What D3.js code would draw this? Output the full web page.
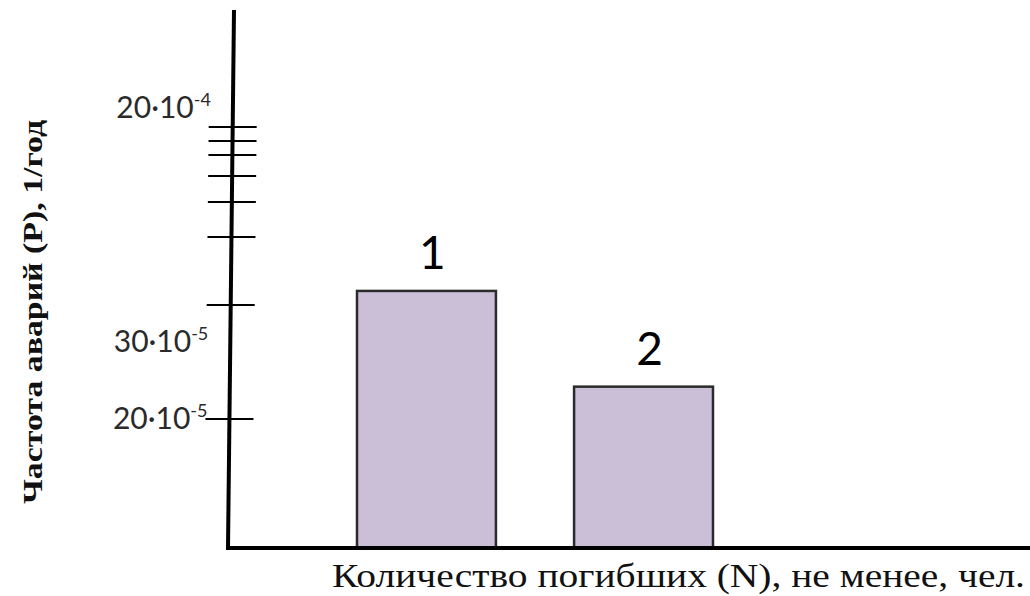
<!DOCTYPE html>
<html><head><meta charset="utf-8">
<script src="https://cdn.jsdelivr.net/npm/d3@7"></script>
<style>body{margin:0;background:#fff}</style></head>
<body><svg id="c" width="1030" height="596"></svg>
<script>
// ---- data ----
const categories = ["1", "2"];
const values = [6.71e-4, 2.42e-4];
const tickValues = [2e-4, 5.69e-4, 1.063e-3, 1.317e-3, 1.506e-3, 1.659e-3, 1.76e-3, 1.862e-3];
const labelValues = [2e-3, 3e-4, 2e-4];
const labelMantissa = ["20", "30", "20"];
const labelExponent = ["-4", "-5", "-5"];
const yTitle = "Частота аварий (P), 1/год";
const xTitle = "Количество погибших (N), не менее, чел.";

// ---- layout ----
const svg = d3.select("#c");
const baseY = 548, topY = 10;
const axisXBottom = 228, axisXTop = 234;
const axisX = y => axisXBottom + (baseY - y) / (baseY - topY) * (axisXTop - axisXBottom);

// schematic (piecewise) value scale
const y = d3.scaleLinear()
  .domain([0, 2e-4, 3e-4, 2e-3])
  .range([baseY, 419, 342, 108]);

const x = d3.scaleBand()
  .domain(categories)
  .range([357, 713])
  .paddingInner(0.36)
  .paddingOuter(0);

// bars
svg.selectAll("rect.bar").data(values).join("rect")
  .attr("class", "bar")
  .attr("x", (d, i) => x(categories[i]))
  .attr("y", d => y(d))
  .attr("width", x.bandwidth())
  .attr("height", d => baseY - y(d))
  .attr("fill", "#cbbfd8")
  .attr("stroke", "#2b2b2b")
  .attr("stroke-width", 2.5);

// bar numbers
svg.selectAll("text.num").data(values).join("text")
  .attr("class", "num")
  .attr("x", (d, i) => x(categories[i]) + x.bandwidth() / 2 + 6)
  .attr("y", d => y(d) - 22)
  .attr("text-anchor", "middle")
  .attr("font-family", "Lato, sans-serif")
  .attr("font-size", 46)
  .attr("fill", "#000")
  .text((d, i) => categories[i]);

// y ticks (crossing the axis)
svg.selectAll("line.tick").data(tickValues).join("line")
  .attr("class", "tick")
  .attr("x1", d => axisX(y(d)) - 24)
  .attr("x2", d => axisX(y(d)) + 24)
  .attr("y1", d => y(d))
  .attr("y2", d => y(d))
  .attr("stroke", "#000")
  .attr("stroke-width", 2);

// axes lines
svg.append("line")
  .attr("x1", axisXTop).attr("y1", topY)
  .attr("x2", axisXBottom).attr("y2", baseY)
  .attr("stroke", "#000").attr("stroke-width", 4);
svg.append("line")
  .attr("x1", axisXBottom - 2).attr("y1", baseY)
  .attr("x2", 1030).attr("y2", baseY)
  .attr("stroke", "#000").attr("stroke-width", 4);

// y labels
const lab = svg.selectAll("text.ylab").data(labelValues).join("text")
  .attr("class", "ylab")
  .attr("x", d => axisX(y(d)) - 22)
  .attr("y", d => y(d) + 10)
  .attr("text-anchor", "end")
  .attr("font-family", "Lato, sans-serif")
  .attr("font-size", 30)
  .attr("fill", "#2a2a2a");
lab.append("tspan").text((d, i) => labelMantissa[i] + "·10");
lab.append("tspan").attr("dy", -12).attr("font-size", 18).text((d, i) => labelExponent[i]);

// titles
svg.append("text")
  .attr("transform", "translate(42,312) rotate(-90)")
  .attr("text-anchor", "middle")
  .attr("font-family", "Liberation Serif, serif")
  .attr("font-weight", "bold")
  .attr("font-size", 28)
  .attr("textLength", 384)
  .attr("lengthAdjust", "spacingAndGlyphs")
  .attr("fill", "#111")
  .text(yTitle);

svg.append("text")
  .attr("x", 332).attr("y", 587)
  .attr("font-family", "Liberation Serif, serif")
  .attr("font-size", 33)
  .attr("textLength", 693)
  .attr("lengthAdjust", "spacingAndGlyphs")
  .attr("fill", "#111")
  .text(xTitle);
</script></body></html>
